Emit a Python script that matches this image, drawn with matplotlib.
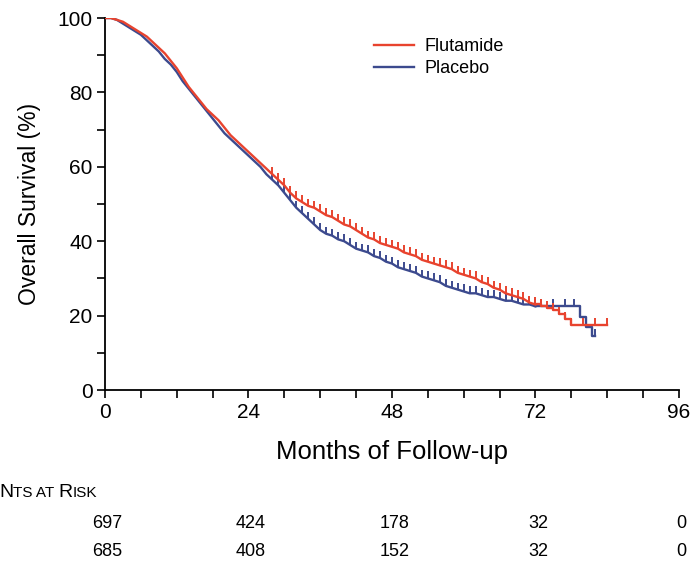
import matplotlib
matplotlib.use("Agg")
import matplotlib.pyplot as plt
from matplotlib.transforms import blended_transform_factory

plt.rcParams['font.family'] = ['Liberation Sans', 'DejaVu Sans']

# Kaplan-Meier curves (months, % surviving)
flut_months = [0, 1, 2, 3, 4, 5, 6, 7, 8, 9, 10, 11, 12, 13, 14, 15, 16, 17, 18, 19,
               20, 21, 22, 23, 24, 25, 26, 27, 28, 29, 30, 31, 32, 33, 34, 35, 36, 37,
               38, 39, 40, 41, 42, 43, 44, 45, 46, 47, 48, 49, 50, 51, 52, 53, 54, 55,
               56, 57, 58, 59, 60, 61, 62, 63, 64, 65, 66, 67, 68, 69, 70, 71, 72, 73,
               74, 75, 76, 77, 78, 80, 82, 84]
flut_surv = [100, 100, 99.5, 99, 98, 97, 96, 95, 93.5, 92, 90.5, 88.5, 86.5, 84, 81.5,
             79.5, 77.5, 75.5, 74, 72.5, 70.5, 68.5, 67, 65.5, 64, 62.5, 61, 59.5, 58,
             56.5, 55, 53, 51.5, 50.5, 49.5, 49, 48, 47, 46.5, 45.5, 44.5, 44, 43, 42,
             41, 40.5, 39.5, 39, 38.5, 38, 37, 36.5, 36, 35, 34.5, 34, 33.5, 33, 32.5,
             31.5, 31, 30.5, 30, 29, 28.5, 27.5, 27, 26, 25.5, 25, 24.5, 23.5, 23, 22.5,
             22, 21.5, 20.5, 19, 17.5, 17.5, 17.5, 17.5]

plac_months = [0, 1, 2, 3, 4, 5, 6, 7, 8, 9, 10, 11, 12, 13, 14, 15, 16, 17, 18, 19,
               20, 21, 22, 23, 24, 25, 26, 27, 28, 29, 30, 31, 32, 33, 34, 35, 36, 37,
               38, 39, 40, 41, 42, 43, 44, 45, 46, 47, 48, 49, 50, 51, 52, 53, 54, 55,
               56, 57, 58, 59, 60, 61, 62, 63, 64, 65, 66, 67, 68, 69, 70, 71, 72, 73,
               75, 77, 78.5, 79.5, 80.5, 81.5, 82]
plac_surv = [100, 100, 99.5, 98.5, 97.5, 96.5, 95.5, 94, 92.5, 91, 89, 87.5, 85.5, 83,
             81, 79, 77, 75, 73, 71, 69, 67.5, 66, 64.5, 63, 61.5, 60, 58, 56.5, 55, 53,
             51, 49, 47.5, 46, 44.5, 43, 42, 41.5, 40.5, 40, 39, 38, 37.5, 37, 36, 35.5,
             34.5, 34, 33, 32.5, 32, 31.5, 30.5, 30, 29.5, 29, 28, 27.5, 27, 26.5, 26,
             26, 25.5, 25, 25, 24.5, 24, 24, 23.5, 23, 23, 22.5, 22.5, 22.5, 22.5, 22.5,
             19.5, 17, 14.5, 14.5]

# Patients at risk table
risk_months = [0, 24, 48, 72, 96]
risk_flut = [697, 424, 178, 32, 0]
risk_plac = [685, 408, 152, 32, 0]

red = '#e8432e'
blue = '#3c4a8e'
tail = 72  # index of month 72: sparse tail drawn as steps

fig = plt.figure(figsize=(6.94, 5.65), dpi=100)
ax = fig.add_axes([0.1513, 0.3097, 0.8270, 0.6584])

ax.plot(flut_months[:tail + 1], flut_surv[:tail + 1], color=red, lw=1.7,
        label='Flutamide', zorder=3)
ax.plot(flut_months[tail:], flut_surv[tail:], drawstyle='steps-post', color=red,
        lw=1.7, zorder=3)
ax.plot(plac_months[:tail + 1], plac_surv[:tail + 1], color=blue, lw=1.7,
        label='Placebo', zorder=2)
ax.plot(plac_months[tail:], plac_surv[tail:], drawstyle='steps-post', color=blue,
        lw=1.7, zorder=2)

# censoring marks (upward ticks)
ax.plot(flut_months[28:], flut_surv[28:], ls='none', marker=2, ms=5, mew=1.4,
        color=red, zorder=3)
ax.plot(plac_months[28:], plac_surv[28:], ls='none', marker=2, ms=5, mew=1.4,
        color=blue, zorder=2)

ax.set_xlim(0, 96)
ax.set_ylim(0, 100)
ax.set_xticks([0, 24, 48, 72, 96])
ax.set_xticks(range(0, 97, 6), minor=True)
ax.set_yticks([0, 20, 40, 60, 80, 100])
ax.set_yticks(range(0, 101, 10), minor=True)
ax.tick_params(which='both', direction='out', length=6, width=1.2, labelsize=15, pad=3)
for s in ['top', 'right']:
    ax.spines[s].set_visible(False)
for s in ['left', 'bottom']:
    ax.spines[s].set_linewidth(1.3)

ax.set_ylabel('Overall Survival (%)', fontsize=16.5, labelpad=12)
ax.set_xlabel('Months of Follow-up', fontsize=18.5, labelpad=13)

ax.legend(loc='upper left', bbox_to_anchor=(0.44, 0.99), frameon=False, fontsize=13,
          handlelength=2.2, handletextpad=0.6, labelspacing=0.3)

# "Patients at risk" header, cut off at the left edge as in the original
fig.canvas.draw()
renderer = fig.canvas.get_renderer()
x = -0.001
for part, size in [('N', 14), ('TS AT ', 11), ('R', 14), ('ISK', 11)]:
    t = fig.text(x, 1 - 497 / 565, part, fontsize=size, va='baseline', ha='left',
                 family=['Liberation Sans Narrow', 'Liberation Sans'])
    x += t.get_window_extent(renderer).width / fig.bbox.width

trans = blended_transform_factory(ax.transData, fig.transFigure)
for m, a, b in zip(risk_months, risk_flut, risk_plac):
    ax.text(m + 0.4, 1 - 523 / 565, str(a), transform=trans, ha='center', va='center',
            fontsize=13, family=['Liberation Sans Narrow', 'Liberation Sans'])
    ax.text(m + 0.4, 1 - 551 / 565, str(b), transform=trans, ha='center', va='center',
            fontsize=13, family=['Liberation Sans Narrow', 'Liberation Sans'])

fig.savefig('out.png', dpi=100)
